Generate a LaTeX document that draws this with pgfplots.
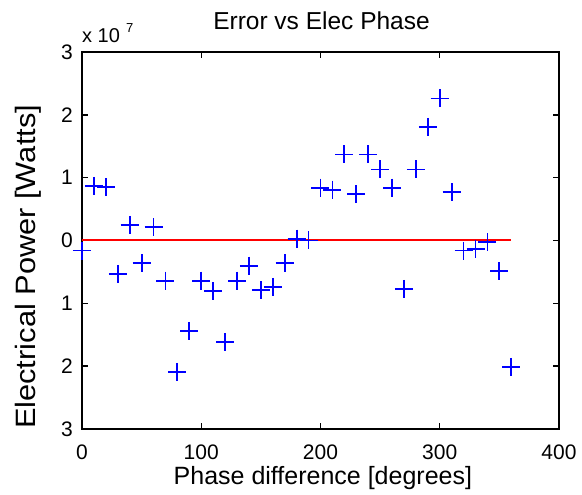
\documentclass[border=0pt]{standalone}
\usepackage{fontspec}
\setmainfont{Liberation Sans}
\usepackage{pgfplots}
\pgfplotsset{compat=1.18}
\begin{document}
\begin{tikzpicture}
% page frame: axis box is 477 x 377, with the reference's margins around it
\useasboundingbox (-82pt,-66pt) rectangle (500pt,429pt);
\begin{axis}[
  scale only axis,
  width=477pt, height=377pt,
  xmin=0, xmax=400, ymin=-3, ymax=3,
  xtick={0,100,200,300,400},
  ytick={-3,-2,-1,0,1,2,3},
  yticklabels={3,2,1,0,1,2,3},
  /pgf/number format/assume math mode=true,
  tick align=inside,
  major tick length=6pt,
  axis line style={line width=1.4pt},
  every tick/.style={black, line width=1.4pt},
  ticklabel style={font=\fontsize{21}{23}\selectfont},
  xticklabel style={inner sep=0pt, anchor=north, yshift=-16pt},
  yticklabel style={inner sep=0pt, anchor=east, xshift=-9pt},
  title={Error vs Elec Phase},
  every axis title shift=0pt,
  title style={font=\fontsize{24.5}{26}\selectfont, inner sep=0pt,
    at={(axis description cs:0.5,1)}, anchor=base, yshift=22pt, xshift=1pt},
  xlabel={Phase difference [degrees]},
  xlabel style={font=\fontsize{25}{27}\selectfont, inner sep=0pt,
    at={(axis description cs:0.505,0)}, anchor=base, yshift=-56pt},
  ylabel={Electrical Power [Watts]},
  ylabel style={font=\fontsize{28}{30}\selectfont, inner sep=0pt,
    at={(axis description cs:-0.0839,0.43)}, anchor=south, xscale=1.1},
  clip=false,
]
\addplot[color=red, line width=2pt, mark=none] coordinates {(0,0) (360,0)};
\addplot[only marks, blue, mark=+, mark size=9pt, mark options={line width=1.8pt}] coordinates {
(0,-0.16) (10,0.87) (20,0.85) (30,-0.53) (40,0.25) (50,-0.36) (60,0.21)
(70,-0.64) (80,-2.09) (90,-1.44) (100,-0.64) (110,-0.81) (120,-1.62)
(130,-0.64) (140,-0.40) (150,-0.79) (160,-0.74) (170,-0.36) (180,0.03)
(190,0.00) (200,0.84) (210,0.81) (220,1.37) (230,0.74) (240,1.37)
(250,1.13) (260,0.84) (270,-0.77) (280,1.13) (290,1.81) (300,2.26)
(310,0.77) (320,-0.16) (330,-0.13) (340,-0.03) (350,-0.49) (360,-2.01)
};
\node[anchor=base west, font=\fontsize{20}{22}\selectfont, inner sep=0pt]
  at (rel axis cs:0,1) [yshift=9pt] {x 10\hspace{6pt}\raisebox{10pt}{\fontsize{13}{15}\selectfont 7}};
\end{axis}
\end{tikzpicture}
\end{document}
